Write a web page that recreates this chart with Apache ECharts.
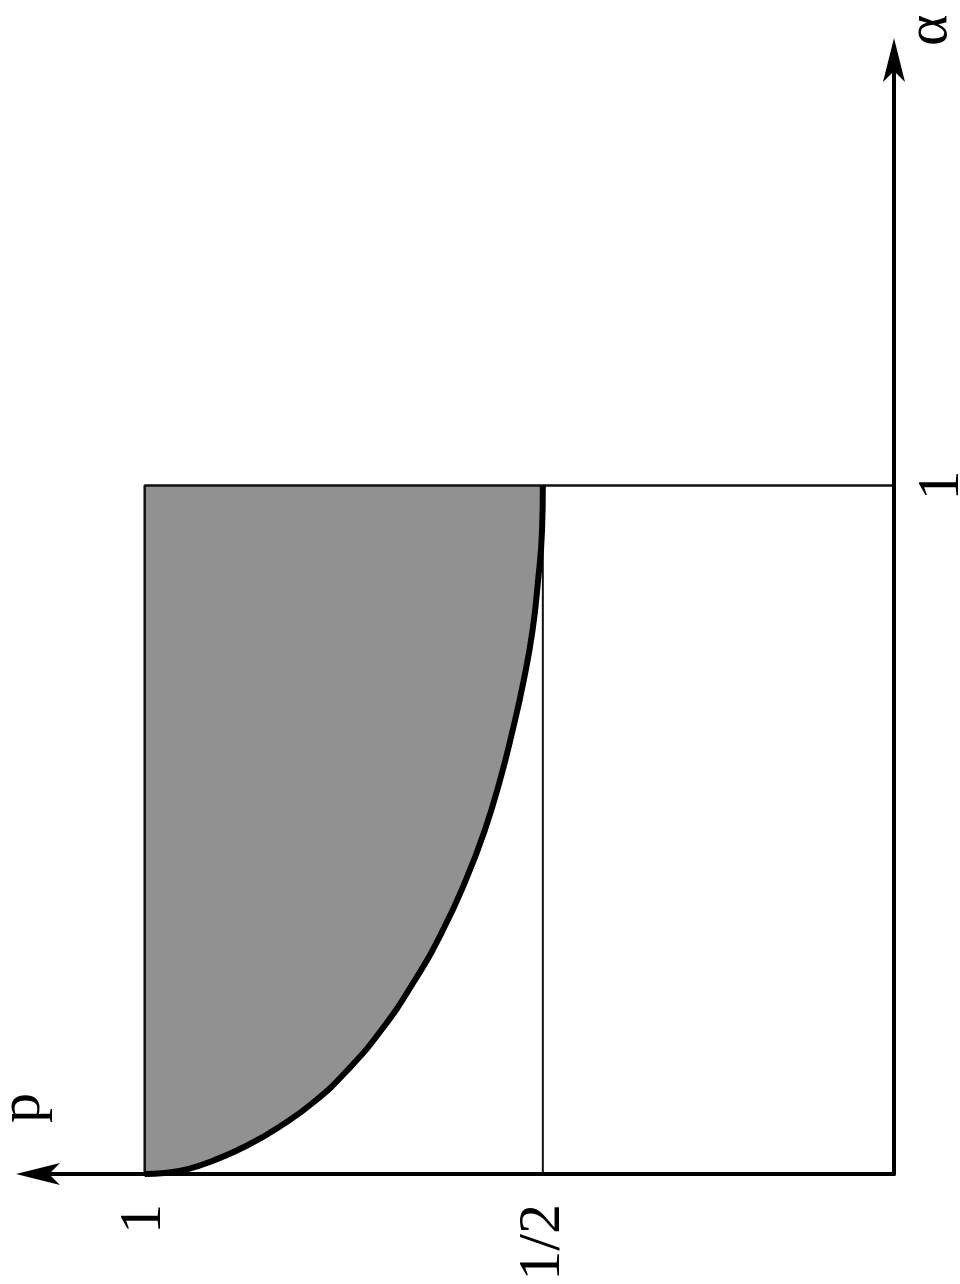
<!DOCTYPE html>
<html><head><meta charset="utf-8">
<script src="https://cdn.jsdelivr.net/npm/echarts@6/dist/echarts.min.js"></script>
<style>html,body{margin:0;padding:0;background:#fff}#c{width:960px;height:1284px}</style>
</head><body><div id="c"></div>
<script>
// boundary curve p(alpha)
const curveP     = [1, 0.975, 0.946, 0.915, 0.872, 0.829, 0.786, 0.746, 0.7035, 0.661, 0.626, 0.597, 0.573, 0.554, 0.538, 0.524, 0.513, 0.506, 0.501, 0.5];
const curveAlpha = [0, 0.0015, 0.007, 0.019, 0.041, 0.070, 0.106, 0.150, 0.208, 0.281, 0.353, 0.426, 0.499, 0.571, 0.644, 0.717, 0.789, 0.862, 0.935, 1];
// tick values and labels
const pTickValues = [0.5, 1];
const pTickLabels = ['1/2', '1'];
const alphaTickValues = [1];
const alphaTickLabels = ['1'];
// axis ranges
const pRange = [0.059, 1.134];
const alphaRange = [0, 1.618];
// reference lines / region bounds
const pOne = 1, pHalf = 0.5, alphaOne = 1;

function labelFor(values, labels) {
  return function (v) {
    for (let i = 0; i < values.length; i++) if (Math.abs(values[i] - v) < 1e-9) return labels[i];
    return '';
  };
}
const FONT = 'Liberation Serif';
const arrowSym = 'path://M0 0L1 4L0 3L-1 4Z';
const curveData = curveP.map(function (p, i) { return [p, curveAlpha[i]]; });

const chart = echarts.init(document.getElementById('c'), null, {renderer: 'canvas'});
chart.setOption({
  animation: false,
  backgroundColor: '#fff',
  grid: {left: 38, right: 66, top: 60, bottom: 110, containLabel: false, outerBoundsMode: 'none'},
  xAxis: {
    type: 'value', inverse: true, min: pRange[0], max: pRange[1], position: 'bottom', z: 10,
    axisLine: {onZero: false, symbol: [arrowSym, 'none'], symbolSize: [29, 44], lineStyle: {color: '#000', width: 4}},
    axisTick: {show: false}, splitLine: {show: false},
    axisLabel: {customValues: pTickValues, formatter: labelFor(pTickValues, pTickLabels), rotate: 90, margin: 30,
      fontFamily: FONT, fontSize: 60, color: '#000'},
    name: 'p', nameLocation: 'end', nameGap: -15, nameRotate: 90,
    nameTextStyle: {fontFamily: FONT, fontSize: 60, color: '#000', padding: [0, 0, 0, 132]}
  },
  yAxis: {
    type: 'value', min: alphaRange[0], max: alphaRange[1], position: 'right', z: 10,
    axisLine: {onZero: false, symbol: ['none', arrowSym], symbolSize: [29, 44], lineStyle: {color: '#000', width: 4}},
    axisTick: {show: false}, splitLine: {show: false},
    axisLabel: {customValues: alphaTickValues, formatter: labelFor(alphaTickValues, alphaTickLabels), rotate: 90, margin: 18,
      fontFamily: FONT, fontSize: 60, color: '#000'},
    name: 'α', nameLocation: 'end', nameGap: 14, nameRotate: 90,
    nameTextStyle: {fontFamily: FONT, fontSize: 60, color: '#000', align: 'left', verticalAlign: 'top', padding: [6, 0, 0, 0]}
  },
  series: [
    { // grey block p in [1/2, 1], alpha in [0, 1]
      type: 'custom', coordinateSystem: 'cartesian2d', silent: true, clip: false, z: 1,
      data: [[pHalf, 0]],
      renderItem: function (params, api) {
        const a = api.coord([pOne, alphaOne]);
        const b = api.coord([pHalf, 0]);
        return {type: 'rect', shape: {x: a[0], y: a[1], width: b[0] - a[0], height: b[1] - a[1]},
          style: {fill: '#919191', stroke: null}};
      }
    },
    { // white region under the curve
      type: 'line', silent: true, symbol: 'none', smooth: 0.5, z: 2,
      data: curveData,
      lineStyle: {width: 0, opacity: 0},
      areaStyle: {color: '#fff', opacity: 1, origin: 'start'}
    },
    {
      type: 'line', silent: true, symbol: 'none', z: 3,
      data: [[pOne, 0], [pOne, alphaOne], [pRange[0], alphaOne]],
      lineStyle: {color: '#111', width: 2.5}
    },
    {
      type: 'line', silent: true, symbol: 'none', z: 3,
      data: [[pHalf, 0], [pHalf, alphaOne]],
      lineStyle: {color: '#111', width: 2}
    },
    {
      type: 'line', silent: true, symbol: 'none', smooth: 0.5, z: 4,
      data: curveData,
      lineStyle: {color: '#000', width: 6}
    }
  ]
});
</script></body></html>
